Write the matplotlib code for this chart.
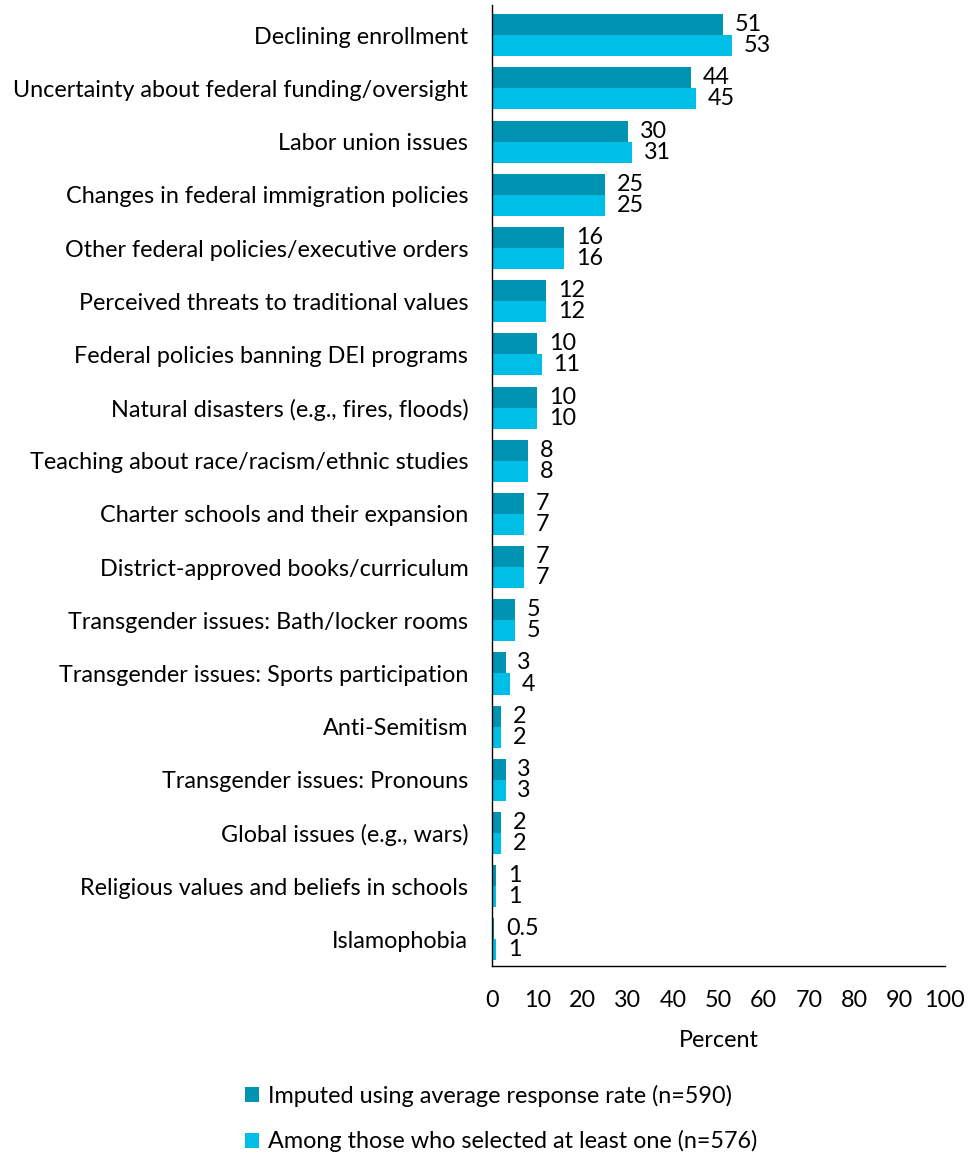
import numpy as np
import matplotlib.pyplot as plt

plt.rcParams['font.family'] = ['Lato', 'DejaVu Sans']

categories = [
    'Declining enrollment',
    'Uncertainty about federal funding/oversight',
    'Labor union issues',
    'Changes in federal immigration policies',
    'Other federal policies/executive orders',
    'Perceived threats to traditional values',
    'Federal policies banning DEI programs',
    'Natural disasters (e.g., fires, floods)',
    'Teaching about race/racism/ethnic studies',
    'Charter schools and their expansion',
    'District-approved books/curriculum',
    'Transgender issues: Bath/locker rooms',
    'Transgender issues: Sports participation',
    'Anti-Semitism',
    'Transgender issues: Pronouns',
    'Global issues (e.g., wars)',
    'Religious values and beliefs in schools',
    'Islamophobia',
]
imputed = [51, 44, 30, 25, 16, 12, 10, 10, 8, 7, 7, 5, 3, 2, 3, 2, 1, 0.5]
selected = [53, 45, 31, 25, 16, 12, 11, 10, 8, 7, 7, 5, 4, 2, 3, 2, 1, 1]

series_names = ['Imputed using average response rate (n=590)',
                'Among those who selected at least one (n=576)']
colors = ['#0093B2', '#00BFE6']
fs = 16.8

fig = plt.figure(figsize=(9.69, 11.54), dpi=100)
ax = fig.add_axes([0.5077, 0.1629, 0.4675, 0.8328])

y = np.arange(len(categories))
h = 0.395
b1 = ax.barh(y - h / 2, imputed, height=h, color=colors[0], label=series_names[0])
b2 = ax.barh(y + h / 2, selected, height=h, color=colors[1], label=series_names[1])

def fmt(v):
    return f'{v:g}'

for bars, vals in ((b1, imputed), (b2, selected)):
    for bar, v in zip(bars, vals):
        ax.annotate(fmt(v), (bar.get_width(), bar.get_y() + bar.get_height() / 2),
                    xytext=(8.5, 0), textcoords='offset points',
                    ha='left', va='center', fontsize=fs)

ax.set_xlim(0, 100)
ax.set_ylim(len(categories) - 0.5, -0.57)
ax.set_xticks(np.arange(0, 101, 10))
ax.set_yticks(y)
ax.set_yticklabels(categories, fontsize=fs)
ax.tick_params(axis='both', length=0, labelsize=fs)
ax.tick_params(axis='x', pad=17)
ax.tick_params(axis='y', pad=17)
ax.set_xlabel('Percent', fontsize=fs, labelpad=14)

for s in ('top', 'right'):
    ax.spines[s].set_visible(False)
for s in ('left', 'bottom'):
    ax.spines[s].set_color('black')
    ax.spines[s].set_linewidth(1.0)

fig.legend(handles=[b1, b2], loc='upper left', bbox_to_anchor=(0.243, 0.068),
           frameon=False, fontsize=fs, handlelength=0.6, handleheight=0.6,
           handletextpad=0.4, labelspacing=1.0, borderaxespad=0)

fig.savefig('out.png', dpi=100)
